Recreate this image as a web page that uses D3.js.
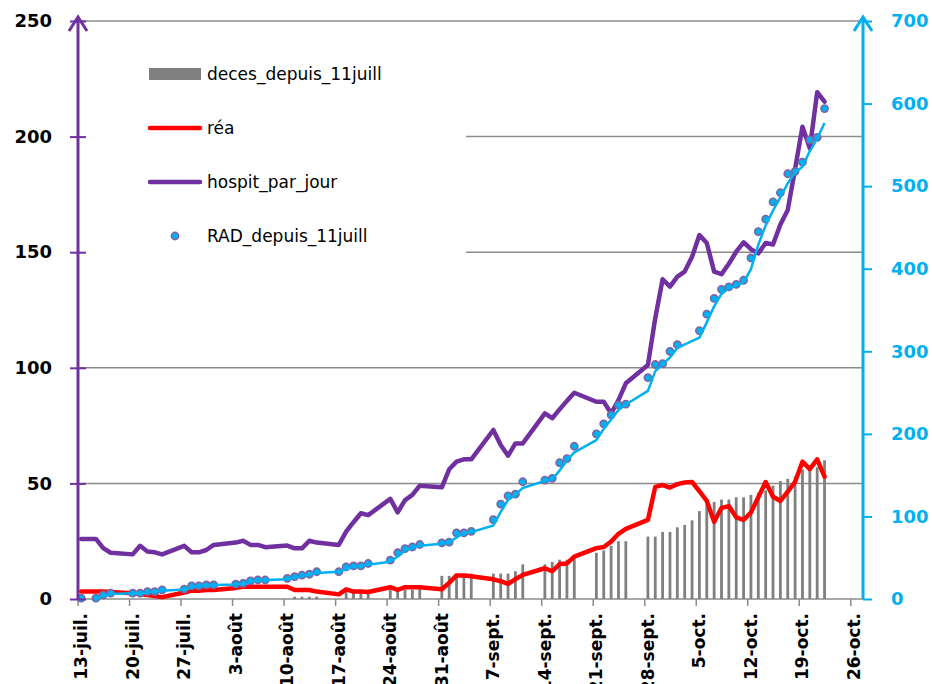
<!DOCTYPE html>
<html><head><meta charset="utf-8">
<script src="https://cdn.jsdelivr.net/npm/d3@7"></script>
<style>body{margin:0;background:#fff}svg{display:block}</style>
</head><body>
<svg id="chart" width="932" height="684"></svg>
<script>
const N = null;
// categories: one per day, 13 July -> 22 October 2020
const days = d3.timeDay.range(new Date(2020, 6, 13), new Date(2020, 9, 23));
const xTickLabels = ["13-juil.","20-juil.","27-juil.","3-août","10-août","17-août","24-août","31-août",
  "7-sept.","14-sept.","21-sept.","28-sept.","5-oct.","12-oct.","19-oct.","26-oct."];
const leftTicks = [0, 50, 100, 150, 200, 250];
const rightTicks = [0, 100, 200, 300, 400, 500, 600, 700];

const hospit_par_jour = [
  26, N, 26, 22, 20, N, N,
  19.3, 23, 20.5, 20.2, 19.3, N, N,
  23, 20.2, 20.2, 21.2, 23.4, N, N,
  24.4, 25.2, 23.4, 23.4, 22.4, N, N,
  23.1, 21.9, 21.9, 25.2, 24.4, N, N,
  23.4, 29.1, 33.2, 37.1, 36.3, N, N,
  43.3, 37.5, 42.8, 45, 49, N, N,
  48.3, 56.1, 59.4, 60.4, 60.4, N, N,
  73.1, 66.6, 62, 67.3, 67.3, N, N,
  80.3, 78.2, 82, 85.7, 89.2, N, N,
  85.3, 85.3, 80.3, 86, 93.3, N, N,
  101.2, 121.5, 138.3, 135.1, 139.4, 141.6, 148,
  157.4, 154, 141.6, 140.5, 145, 150.2, 154.3,
  151.3, 149.5, 154, 153.3, 162, 168.3, 186,
  204.3, 194.9, 219.2, 215.1
];
const rea = [
  3.2, N, 3.2, 3.2, 3.0, N, N,
  2.5, 2.2, 1.7, 1.3, 0.8, N, N,
  2.8, 3.6, 3.6, 3.9, 3.9, N, N,
  4.8, 5.3, 5.3, 5.3, 5.3, N, N,
  5.3, 3.9, 3.9, 3.9, 3.2, N, N,
  2.0, 4.2, 3.2, 3.2, 3.0, N, N,
  5.1, 4.0, 5.1, 5.1, 5.1, N, N,
  4.2, 7.0, 10.2, 10.2, 9.8, N, N,
  8.5, 7.7, 6.5, 8.6, 10.4, N, N,
  13.3, 12, 15.1, 15.4, 18.3, N, N,
  22, 22.5, 24.8, 28.2, 30.3, N, N,
  34.2, 48.5, 49.3, 48.2, 49.7, 50.4, 50.6,
  46.6, 42.4, 33.4, 39.4, 40.2, 35.3, 34.2,
  37.4, 44, 50.6, 44.2, 42.4, 46.4, 50.7,
  59.4, 56.2, 60.4, 52.9
];
const deces_depuis_11juill = [
  N, N, N, N, N, N, N,
  N, N, N, N, N, N, N,
  N, N, N, N, N, N, N,
  N, N, N, N, N, N, N,
  N, 1, 1, 1, 1, N, N,
  N, 3, 4, 4, 4, N, N,
  4, 4, 4, 4, 5, N, N,
  10, 10, 11, 11, 11, N, N,
  11, 11, 11, 12, 15, N, N,
  15, 16, 17, 17, 18, N, N,
  20, 21, 23, 25, 25, N, N,
  27, 27, 29, 29, 31, 32, 34,
  38, 41, 42, 43, 43, 44, 44,
  45, 46, 47, 49, 51, 52, 53,
  56, 56, 57, 60
];
const RAD_depuis_11juill = [
  1, N, 1, 5, 7, N, N,
  7, 7, 9, 9, 11, N, N,
  12, 16, 16, 17, 17, N, N,
  18, 19, 22, 23, 23, N, N,
  25, 27, 29, 30, 33, N, N,
  33, 39, 40, 40, 43, N, N,
  47, 56, 61, 63, 66, N, N,
  68, 69, 80, 80, 82, N, N,
  96, 115, 125, 127, 142, N, N,
  144, 146, 165, 170, 185, N, N,
  200, 212, 223, 235, 236, N, N,
  268, 284, 285, 300, 308, N, N,
  325, 345, 364, 375, 378, 381, 386,
  413, 445, 460, 481, 492, 515, 518,
  529, 556, 559, 594
];

const PURPLE = "#7030A0", RED = "#FF0000", CYAN = "#00B0F0", GREY = "#8C8C8C", BAR = "#808080";
const FONT = "'DejaVu Sans', sans-serif";

const svg = d3.select("#chart");
const xL = 78, xR = 863, yBase = 599, yTop = 21;
const x = d3.scaleLinear().domain([0, 105]).range([77.5, 850.3]);
const px = i => x(i + 0.5);
const yL = d3.scaleLinear().domain([0, 250]).range([yBase, yTop]);
const yR = d3.scaleLinear().domain([0, 700]).range([yBase, yTop]);

const pts = arr => arr.map((v, i) => ({i, v, d: days[i]})).filter(p => p.v != null);

// gridlines
svg.append("g").selectAll("line").data(leftTicks.slice(1)).join("line")
  .attr("x1", xL).attr("x2", xR).attr("y1", d => yL(d)).attr("y2", d => yL(d))
  .attr("stroke", GREY).attr("stroke-width", 1.5);

// legend background (hides gridlines behind it)
svg.append("rect").attr("x", 80).attr("y", 40).attr("width", 386).attr("height", 222).attr("fill", "#fff");

// x axis
svg.append("line").attr("x1", xL).attr("x2", xR).attr("y1", yBase).attr("y2", yBase)
  .attr("stroke", GREY).attr("stroke-width", 1.5);
const xAxis = svg.append("g").attr("transform", `translate(0,${yBase})`)
  .call(d3.axisBottom(x).tickValues(d3.range(0, 106, 7)).tickSize(7)
    .tickFormat((d, k) => xTickLabels[k]));
xAxis.select(".domain").remove();
xAxis.selectAll(".tick line").attr("stroke", GREY).attr("stroke-width", 1.5);
xAxis.selectAll(".tick text")
  .attr("x", 0).attr("y", 0).attr("dy", 0)
  .attr("transform", "translate(9,14) rotate(-90)")
  .attr("text-anchor", "end")
  .attr("fill", "#000").style("font", `bold 17px ${FONT}`);

// bars (deces)
const bw = 2.8;
svg.append("g").selectAll("rect").data(pts(deces_depuis_11juill)).join("rect")
  .attr("x", p => px(p.i) - bw / 2).attr("width", bw)
  .attr("y", p => yL(p.v)).attr("height", p => yBase - yL(p.v))
  .attr("fill", BAR);

// réa line
const lineL = d3.line().x(p => px(p.i)).y(p => yL(p.v));
const lineR = d3.line().x(p => px(p.i)).y(p => yR(p.v));
svg.append("path").datum(pts(rea)).attr("d", lineL)
  .attr("fill", "none").attr("stroke", RED).attr("stroke-width", 4.5)
  .attr("stroke-linejoin", "round").attr("stroke-linecap", "round");
// hospit line
svg.append("path").datum(pts(hospit_par_jour)).attr("d", lineL)
  .attr("fill", "none").attr("stroke", PURPLE).attr("stroke-width", 4.5)
  .attr("stroke-linejoin", "round").attr("stroke-linecap", "round");

// RAD dots
const radPts = pts(RAD_depuis_11juill);
svg.append("g").selectAll("circle").data(radPts).join("circle")
  .attr("cx", p => px(p.i)).attr("cy", p => yR(p.v)).attr("r", 3.6)
  .attr("fill", CYAN).attr("stroke", "#8064A2").attr("stroke-width", 1.6);

// 2-period moving average trendline of RAD (as in the source chart)
const trend = radPts.slice(1).map((p, k) => ({i: p.i, v: (p.v + radPts[k].v) / 2}));
svg.append("path").datum(trend).attr("d", lineR)
  .attr("fill", "none").attr("stroke", CYAN).attr("stroke-width", 2.5)
  .attr("stroke-linejoin", "round");

// left axis
const ax1 = svg.append("g").attr("transform", `translate(${xL},0)`)
  .call(d3.axisLeft(yL).tickValues(leftTicks).tickSizeInner(8).tickSizeOuter(0).tickPadding(18));
ax1.select(".domain").attr("stroke", PURPLE).attr("stroke-width", 3).attr("d", `M0,${yBase}V17`);
ax1.selectAll(".tick line").attr("x1", -8).attr("x2", 8).attr("stroke", PURPLE).attr("stroke-width", 2);
ax1.selectAll(".tick text").attr("fill", "#000").style("font", `bold 18px ${FONT}`);
ax1.append("path").attr("d", "M-9,31L0,17L9,31").attr("fill", "none")
  .attr("stroke", PURPLE).attr("stroke-width", 3);

// right axis
const ax2 = svg.append("g").attr("transform", `translate(${xR},0)`)
  .call(d3.axisRight(yR).tickValues(rightTicks).tickSizeInner(9).tickSizeOuter(0).tickPadding(19));
ax2.select(".domain").attr("stroke", CYAN).attr("stroke-width", 3).attr("d", `M0,${yBase}V17`);
ax2.selectAll(".tick line").attr("stroke", CYAN).attr("stroke-width", 2);
ax2.selectAll(".tick text").attr("fill", CYAN).style("font", `bold 18px ${FONT}`);
ax2.append("path").attr("d", "M-9,31L0,17L9,31").attr("fill", "none")
  .attr("stroke", CYAN).attr("stroke-width", 3);

// legend
const lg = svg.append("g").style("font", `17px ${FONT}`).attr("fill", "#000");
lg.append("rect").attr("x", 149).attr("y", 68).attr("width", 52).attr("height", 12).attr("fill", BAR);
lg.append("text").attr("x", 207).attr("y", 80).text("deces_depuis_11juill");
lg.append("line").attr("x1", 150).attr("x2", 200).attr("y1", 128).attr("y2", 128)
  .attr("stroke", RED).attr("stroke-width", 4.5).attr("stroke-linecap", "round");
lg.append("text").attr("x", 207).attr("y", 134).text("réa");
lg.append("line").attr("x1", 150).attr("x2", 200).attr("y1", 182).attr("y2", 182)
  .attr("stroke", PURPLE).attr("stroke-width", 4.5).attr("stroke-linecap", "round");
lg.append("text").attr("x", 207).attr("y", 188).text("hospit_par_jour");
lg.append("circle").attr("cx", 175).attr("cy", 236).attr("r", 3.6)
  .attr("fill", CYAN).attr("stroke", "#8064A2").attr("stroke-width", 1.6);
lg.append("text").attr("x", 207).attr("y", 242).text("RAD_depuis_11juill");
</script>
</body></html>
